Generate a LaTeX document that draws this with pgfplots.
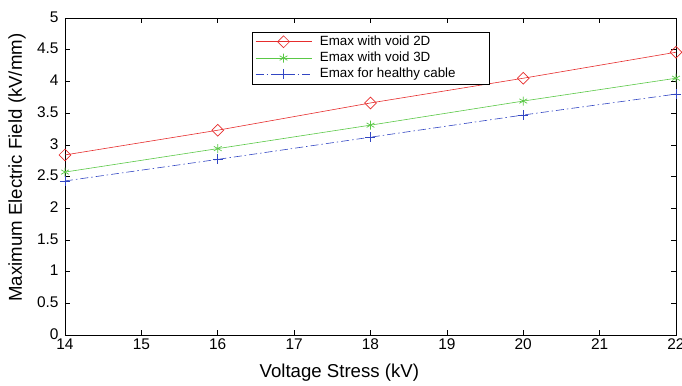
\documentclass[border=0pt]{standalone}
\usepackage{pgfplots}
\pgfplotsset{compat=1.18}
\usepackage{fontspec}
\setmainfont{Liberation Sans}
\definecolor{cred}{RGB}{230,45,45}
\definecolor{cgreen}{RGB}{90,200,70}
\definecolor{cblue}{RGB}{50,70,195}
\begin{document}
\begin{tikzpicture}
\begin{axis}[
  scale only axis,
  width=611bp, height=317bp,
  xmin=14, xmax=22, ymin=0, ymax=5,
  xtick={14,15,...,22},
  ytick={0,0.5,...,5},
  yticklabels={0,0.5,1,1.5,2,2.5,3,3.5,4,4.5,5},
  tick align=inside,
  major tick length=5bp,
  tick style={black, line width=0.6pt},
  axis line style={black, line width=0.7pt},
  /pgf/number format/assume math mode=true,
  ticklabel style={font=\fontsize{15.5}{17}\selectfont},
  xticklabel style={yshift=-0.5bp},
  yticklabel style={xshift=-3bp, yshift=1bp},
  xlabel={Voltage Stress (kV)},
  ylabel={Maximum Electric Field (kV/mm)},
  label style={font=\fontsize{18.7}{20}\selectfont},
  xlabel style={at={(axis description cs:0.449,0)}, anchor=center, yshift=-38bp},
  ylabel style={at={(axis description cs:-0.0786,0.528)}, anchor=center},
  legend style={at={(0.306,0.956)}, anchor=north west, draw=black, line width=0.6pt,
    font=\fontsize{13.4}{15}\selectfont, row sep=1.3bp, inner xsep=3bp, inner ysep=2bp,
    nodes={inner sep=1bp, text height=10bp, text depth=3bp},
    cells={anchor=west}},
  legend cell align=left,
  legend image code/.code={\draw[#1] (0bp,0bp) -- (56bp,0bp); \draw[#1, only marks] plot coordinates {(28bp,0bp)}; \path (63bp,0bp);},
]
\addplot[cred, line width=0.6bp, mark=square, mark size=4.2bp, mark options={solid, rotate=45, line width=0.7bp}] coordinates {
(14,2.84) (16,3.23) (18,3.66) (20,4.05) (22,4.46)};
\addlegendentry{Emax with void 2D}
\addplot[cgreen, line width=0.6bp, mark=asterisk, mark size=4.5bp, mark options={solid, line width=0.7bp}] coordinates {
(14,2.57) (16,2.94) (18,3.31) (20,3.69) (22,4.05)};
\addlegendentry{Emax with void 3D}
\addplot[cblue, line width=0.6bp, dash pattern=on 8bp off 3bp on 1.5bp off 3bp, mark=+, mark size=5bp, mark options={solid, line width=0.7bp}] coordinates {
(14,2.43) (16,2.77) (18,3.12) (20,3.47) (22,3.80)};
\addlegendentry{Emax for healthy cable\rule{30bp}{0pt}}
\end{axis}
\pgfresetboundingbox
\path (-65bp,-51bp) rectangle (617bp,335bp);
\end{tikzpicture}
\end{document}
